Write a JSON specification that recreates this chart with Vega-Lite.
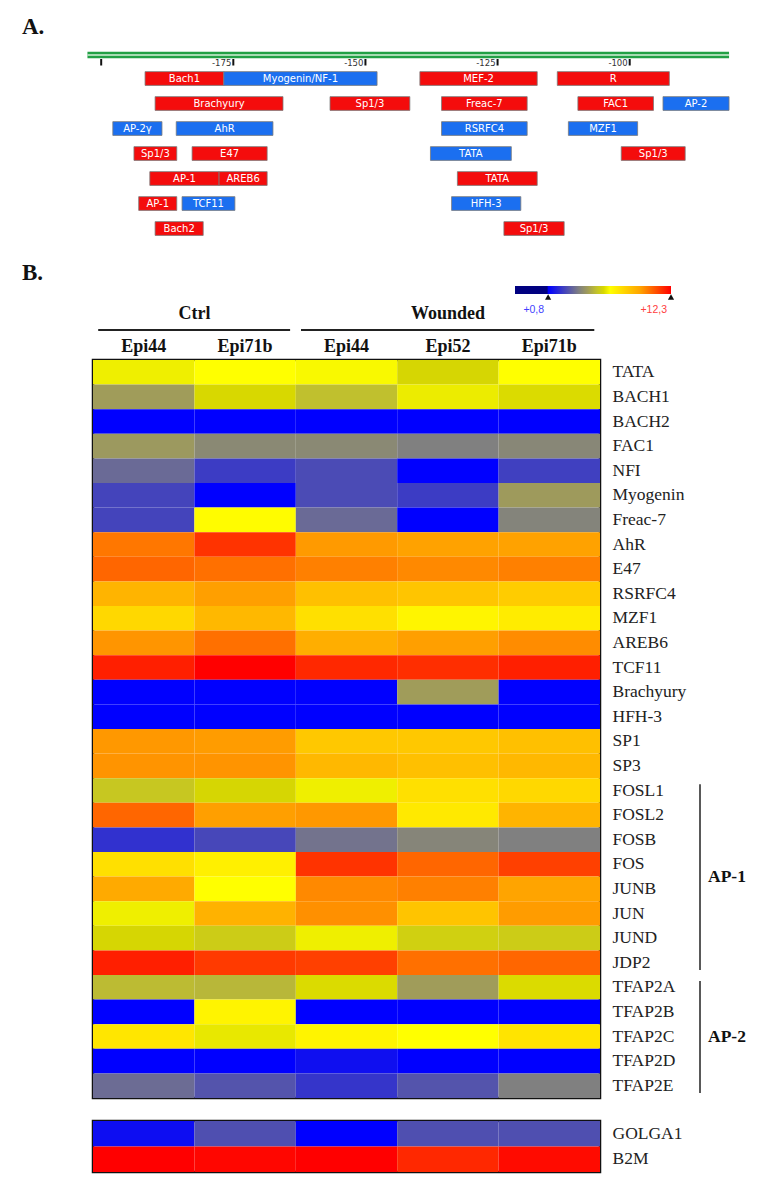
{
  "$schema": "https://vega.github.io/schema/vega-lite/v6.json",
  "padding": {"left": 22, "top": 15, "right": 5, "bottom": 5},
  "background": "white",
  "config": {"view": {"stroke": null}, "font": "Liberation Serif"},
  "datasets": {
    "heat": [
      {"gene":"TATA","sample":"Ctrl/Epi44","value":6.35},{"gene":"TATA","sample":"Ctrl/Epi71b","value":6.6},{"gene":"TATA","sample":"Wounded/Epi44","value":6.5},{"gene":"TATA","sample":"Wounded/Epi52","value":5.95},{"gene":"TATA","sample":"Wounded/Epi71b","value":6.6},
      {"gene":"BACH1","sample":"Ctrl/Epi44","value":4.5},{"gene":"BACH1","sample":"Ctrl/Epi71b","value":6.0},{"gene":"BACH1","sample":"Wounded/Epi44","value":5.3},{"gene":"BACH1","sample":"Wounded/Epi52","value":6.3},{"gene":"BACH1","sample":"Wounded/Epi71b","value":6.05},
      {"gene":"BACH2","sample":"Ctrl/Epi44","value":0.8},{"gene":"BACH2","sample":"Ctrl/Epi71b","value":0.8},{"gene":"BACH2","sample":"Wounded/Epi44","value":0.8},{"gene":"BACH2","sample":"Wounded/Epi52","value":0.8},{"gene":"BACH2","sample":"Wounded/Epi71b","value":0.8},
      {"gene":"FAC1","sample":"Ctrl/Epi44","value":4.4},{"gene":"FAC1","sample":"Ctrl/Epi71b","value":3.95},{"gene":"FAC1","sample":"Wounded/Epi44","value":3.95},{"gene":"FAC1","sample":"Wounded/Epi52","value":3.7},{"gene":"FAC1","sample":"Wounded/Epi71b","value":3.9},
      {"gene":"NFI","sample":"Ctrl/Epi44","value":3.2},{"gene":"NFI","sample":"Ctrl/Epi71b","value":2.15},{"gene":"NFI","sample":"Wounded/Epi44","value":2.5},{"gene":"NFI","sample":"Wounded/Epi52","value":0.8},{"gene":"NFI","sample":"Wounded/Epi71b","value":2.25},
      {"gene":"Myogenin","sample":"Ctrl/Epi44","value":2.35},{"gene":"Myogenin","sample":"Ctrl/Epi71b","value":0.8},{"gene":"Myogenin","sample":"Wounded/Epi44","value":2.5},{"gene":"Myogenin","sample":"Wounded/Epi52","value":2.15},{"gene":"Myogenin","sample":"Wounded/Epi71b","value":4.45},
      {"gene":"Freac-7","sample":"Ctrl/Epi44","value":2.35},{"gene":"Freac-7","sample":"Ctrl/Epi71b","value":6.7},{"gene":"Freac-7","sample":"Wounded/Epi44","value":3.2},{"gene":"Freac-7","sample":"Wounded/Epi52","value":0.8},{"gene":"Freac-7","sample":"Wounded/Epi71b","value":3.8},
      {"gene":"AhR","sample":"Ctrl/Epi44","value":10.2},{"gene":"AhR","sample":"Ctrl/Epi71b","value":11.4},{"gene":"AhR","sample":"Wounded/Epi44","value":9.6},{"gene":"AhR","sample":"Wounded/Epi52","value":9.45},{"gene":"AhR","sample":"Wounded/Epi71b","value":9.45},
      {"gene":"E47","sample":"Ctrl/Epi44","value":10.5},{"gene":"E47","sample":"Ctrl/Epi71b","value":10.33},{"gene":"E47","sample":"Wounded/Epi44","value":10.05},{"gene":"E47","sample":"Wounded/Epi52","value":9.9},{"gene":"E47","sample":"Wounded/Epi71b","value":10.05},
      {"gene":"RSRFC4","sample":"Ctrl/Epi44","value":8.93},{"gene":"RSRFC4","sample":"Ctrl/Epi71b","value":9.5},{"gene":"RSRFC4","sample":"Wounded/Epi44","value":8.56},{"gene":"RSRFC4","sample":"Wounded/Epi52","value":8.4},{"gene":"RSRFC4","sample":"Wounded/Epi71b","value":8.2},
      {"gene":"MZF1","sample":"Ctrl/Epi44","value":7.8},{"gene":"MZF1","sample":"Ctrl/Epi71b","value":8.8},{"gene":"MZF1","sample":"Wounded/Epi44","value":7.56},{"gene":"MZF1","sample":"Wounded/Epi52","value":6.9},{"gene":"MZF1","sample":"Wounded/Epi71b","value":7.2},
      {"gene":"AREB6","sample":"Ctrl/Epi44","value":9.68},{"gene":"AREB6","sample":"Ctrl/Epi71b","value":10.33},{"gene":"AREB6","sample":"Wounded/Epi44","value":9.12},{"gene":"AREB6","sample":"Wounded/Epi52","value":9.5},{"gene":"AREB6","sample":"Wounded/Epi71b","value":9.84},
      {"gene":"TCF11","sample":"Ctrl/Epi44","value":11.75},{"gene":"TCF11","sample":"Ctrl/Epi71b","value":12.3},{"gene":"TCF11","sample":"Wounded/Epi44","value":11.6},{"gene":"TCF11","sample":"Wounded/Epi52","value":11.5},{"gene":"TCF11","sample":"Wounded/Epi71b","value":11.75},
      {"gene":"Brachyury","sample":"Ctrl/Epi44","value":0.8},{"gene":"Brachyury","sample":"Ctrl/Epi71b","value":0.8},{"gene":"Brachyury","sample":"Wounded/Epi44","value":0.8},{"gene":"Brachyury","sample":"Wounded/Epi52","value":4.5},{"gene":"Brachyury","sample":"Wounded/Epi71b","value":0.8},
      {"gene":"HFH-3","sample":"Ctrl/Epi44","value":0.8},{"gene":"HFH-3","sample":"Ctrl/Epi71b","value":0.8},{"gene":"HFH-3","sample":"Wounded/Epi44","value":0.8},{"gene":"HFH-3","sample":"Wounded/Epi52","value":0.8},{"gene":"HFH-3","sample":"Wounded/Epi71b","value":0.8},
      {"gene":"SP1","sample":"Ctrl/Epi44","value":9.63},{"gene":"SP1","sample":"Ctrl/Epi71b","value":9.55},{"gene":"SP1","sample":"Wounded/Epi44","value":8.31},{"gene":"SP1","sample":"Wounded/Epi52","value":8.31},{"gene":"SP1","sample":"Wounded/Epi71b","value":8.56},
      {"gene":"SP3","sample":"Ctrl/Epi44","value":9.7},{"gene":"SP3","sample":"Ctrl/Epi71b","value":9.7},{"gene":"SP3","sample":"Wounded/Epi44","value":8.8},{"gene":"SP3","sample":"Wounded/Epi52","value":8.56},{"gene":"SP3","sample":"Wounded/Epi71b","value":8.8},
      {"gene":"FOSL1","sample":"Ctrl/Epi44","value":5.5},{"gene":"FOSL1","sample":"Ctrl/Epi71b","value":5.95},{"gene":"FOSL1","sample":"Wounded/Epi44","value":6.35},{"gene":"FOSL1","sample":"Wounded/Epi52","value":7.56},{"gene":"FOSL1","sample":"Wounded/Epi71b","value":7.8},
      {"gene":"FOSL2","sample":"Ctrl/Epi44","value":10.5},{"gene":"FOSL2","sample":"Ctrl/Epi71b","value":9.5},{"gene":"FOSL2","sample":"Wounded/Epi44","value":9.63},{"gene":"FOSL2","sample":"Wounded/Epi52","value":7.3},{"gene":"FOSL2","sample":"Wounded/Epi71b","value":8.93},
      {"gene":"FOSB","sample":"Ctrl/Epi44","value":1.9},{"gene":"FOSB","sample":"Ctrl/Epi71b","value":2.4},{"gene":"FOSB","sample":"Wounded/Epi44","value":3.4},{"gene":"FOSB","sample":"Wounded/Epi52","value":3.85},{"gene":"FOSB","sample":"Wounded/Epi71b","value":3.7},
      {"gene":"FOS","sample":"Ctrl/Epi44","value":7.56},{"gene":"FOS","sample":"Ctrl/Epi71b","value":7.07},{"gene":"FOS","sample":"Wounded/Epi44","value":11.4},{"gene":"FOS","sample":"Wounded/Epi52","value":10.5},{"gene":"FOS","sample":"Wounded/Epi71b","value":11.17},
      {"gene":"JUNB","sample":"Ctrl/Epi44","value":9.24},{"gene":"JUNB","sample":"Ctrl/Epi71b","value":6.6},{"gene":"JUNB","sample":"Wounded/Epi44","value":9.9},{"gene":"JUNB","sample":"Wounded/Epi52","value":10.05},{"gene":"JUNB","sample":"Wounded/Epi71b","value":9.42},
      {"gene":"JUN","sample":"Ctrl/Epi44","value":6.35},{"gene":"JUN","sample":"Ctrl/Epi71b","value":9.0},{"gene":"JUN","sample":"Wounded/Epi44","value":9.77},{"gene":"JUN","sample":"Wounded/Epi52","value":8.43},{"gene":"JUN","sample":"Wounded/Epi71b","value":9.55},
      {"gene":"JUND","sample":"Ctrl/Epi44","value":5.95},{"gene":"JUND","sample":"Ctrl/Epi71b","value":5.65},{"gene":"JUND","sample":"Wounded/Epi44","value":6.35},{"gene":"JUND","sample":"Wounded/Epi52","value":5.75},{"gene":"JUND","sample":"Wounded/Epi71b","value":5.65},
      {"gene":"JDP2","sample":"Ctrl/Epi44","value":11.75},{"gene":"JDP2","sample":"Ctrl/Epi71b","value":11.28},{"gene":"JDP2","sample":"Wounded/Epi44","value":11.17},{"gene":"JDP2","sample":"Wounded/Epi52","value":10.33},{"gene":"JDP2","sample":"Wounded/Epi71b","value":10.5},
      {"gene":"TFAP2A","sample":"Ctrl/Epi44","value":5.2},{"gene":"TFAP2A","sample":"Ctrl/Epi71b","value":5.1},{"gene":"TFAP2A","sample":"Wounded/Epi44","value":6.05},{"gene":"TFAP2A","sample":"Wounded/Epi52","value":4.5},{"gene":"TFAP2A","sample":"Wounded/Epi71b","value":6.05},
      {"gene":"TFAP2B","sample":"Ctrl/Epi44","value":0.8},{"gene":"TFAP2B","sample":"Ctrl/Epi71b","value":6.95},{"gene":"TFAP2B","sample":"Wounded/Epi44","value":0.8},{"gene":"TFAP2B","sample":"Wounded/Epi52","value":0.8},{"gene":"TFAP2B","sample":"Wounded/Epi71b","value":0.8},
      {"gene":"TFAP2C","sample":"Ctrl/Epi44","value":7.38},{"gene":"TFAP2C","sample":"Ctrl/Epi71b","value":6.25},{"gene":"TFAP2C","sample":"Wounded/Epi44","value":6.95},{"gene":"TFAP2C","sample":"Wounded/Epi52","value":6.6},{"gene":"TFAP2C","sample":"Wounded/Epi71b","value":7.45},
      {"gene":"TFAP2D","sample":"Ctrl/Epi44","value":0.8},{"gene":"TFAP2D","sample":"Ctrl/Epi71b","value":0.8},{"gene":"TFAP2D","sample":"Wounded/Epi44","value":1.15},{"gene":"TFAP2D","sample":"Wounded/Epi52","value":0.8},{"gene":"TFAP2D","sample":"Wounded/Epi71b","value":0.8},
      {"gene":"TFAP2E","sample":"Ctrl/Epi44","value":3.25},{"gene":"TFAP2E","sample":"Ctrl/Epi71b","value":2.7},{"gene":"TFAP2E","sample":"Wounded/Epi44","value":2.0},{"gene":"TFAP2E","sample":"Wounded/Epi52","value":2.7},{"gene":"TFAP2E","sample":"Wounded/Epi71b","value":3.7}
    ],
    "controls": [
      {"gene":"GOLGA1","sample":"Ctrl/Epi44","value":1.1},{"gene":"GOLGA1","sample":"Ctrl/Epi71b","value":2.6},{"gene":"GOLGA1","sample":"Wounded/Epi44","value":0.8},{"gene":"GOLGA1","sample":"Wounded/Epi52","value":2.6},{"gene":"GOLGA1","sample":"Wounded/Epi71b","value":2.6},
      {"gene":"B2M","sample":"Ctrl/Epi44","value":12.3},{"gene":"B2M","sample":"Ctrl/Epi71b","value":12.2},{"gene":"B2M","sample":"Wounded/Epi44","value":12.3},{"gene":"B2M","sample":"Wounded/Epi52","value":11.6},{"gene":"B2M","sample":"Wounded/Epi71b","value":12.1}
    ],
    "sites": [
      {"id":1,"factor":"Bach1","strand":"+","row":1,"start":-191.7,"end":-176.8},
      {"id":2,"factor":"Myogenin/NF-1","strand":"-","row":1,"start":-176.8,"end":-147.8},
      {"id":3,"factor":"MEF-2","strand":"+","row":1,"start":-139.7,"end":-117.5},
      {"id":4,"factor":"R","strand":"+","row":1,"start":-113.7,"end":-92.5},
      {"id":5,"factor":"Brachyury","strand":"+","row":2,"start":-189.8,"end":-165.6},
      {"id":6,"factor":"Sp1/3","strand":"+","row":2,"start":-156.7,"end":-141.6},
      {"id":7,"factor":"Freac-7","strand":"+","row":2,"start":-135.6,"end":-119.4},
      {"id":8,"factor":"FAC1","strand":"+","row":2,"start":-109.8,"end":-95.5},
      {"id":9,"factor":"AP-2","strand":"-","row":2,"start":-93.7,"end":-81.2},
      {"id":10,"factor":"AP-2γ","strand":"-","row":3,"start":-197.8,"end":-188.5},
      {"id":11,"factor":"AhR","strand":"-","row":3,"start":-185.8,"end":-167.5},
      {"id":12,"factor":"RSRFC4","strand":"-","row":3,"start":-135.6,"end":-119.4},
      {"id":13,"factor":"MZF1","strand":"-","row":3,"start":-111.6,"end":-98.5},
      {"id":14,"factor":"Sp1/3","strand":"+","row":4,"start":-193.8,"end":-185.7},
      {"id":15,"factor":"E47","strand":"+","row":4,"start":-182.8,"end":-168.6},
      {"id":16,"factor":"TATA","strand":"-","row":4,"start":-137.7,"end":-122.4},
      {"id":17,"factor":"Sp1/3","strand":"+","row":4,"start":-101.6,"end":-89.5},
      {"id":18,"factor":"AP-1","strand":"+","row":5,"start":-190.8,"end":-177.7},
      {"id":19,"factor":"AREB6","strand":"+","row":5,"start":-177.7,"end":-168.6},
      {"id":20,"factor":"TATA","strand":"+","row":5,"start":-132.6,"end":-117.5},
      {"id":21,"factor":"AP-1","strand":"+","row":6,"start":-192.9,"end":-185.7},
      {"id":22,"factor":"TCF11","strand":"-","row":6,"start":-184.7,"end":-174.7},
      {"id":23,"factor":"HFH-3","strand":"-","row":6,"start":-133.7,"end":-120.6},
      {"id":24,"factor":"Bach2","strand":"+","row":7,"start":-189.8,"end":-180.7},
      {"id":25,"factor":"Sp1/3","strand":"+","row":7,"start":-123.8,"end":-112.4}
    ]
  },
  "spacing": 21,
  "vconcat": [
    {
      "bounds": "flush",
      "spacing": 0,
      "vconcat": [
        {
          "title": {"text": "A.", "anchor": "start", "frame": "group", "dx": -71, "offset": 12.4, "baseline": "top", "font": "Liberation Serif", "fontSize": 23, "fontWeight": "bold", "color": "#111"},
          "width": 636,
          "height": 8,
          "data": {"values": [{"from": -202.6, "to": -81.2}]},
          "encoding": {
            "x": {"field": "from", "type": "quantitative", "scale": {"domain": [-201.55, -81.21], "nice": false, "zero": false}, "axis": null},
            "x2": {"field": "to"}
          },
          "layer": [
            {"mark": {"type": "rule", "color": "#22a045", "strokeWidth": 6.5}},
            {"mark": {"type": "rule", "color": "#d4efd9", "strokeWidth": 1.5}}
          ]
        },
        {
          "width": 636,
          "height": 6.5,
          "data": {"values": [{"pos": -200, "label": ""}, {"pos": -175, "label": "-175"}, {"pos": -150, "label": "-150"}, {"pos": -125, "label": "-125"}, {"pos": -100, "label": "-100"}]},
          "encoding": {
            "x": {"field": "pos", "type": "quantitative", "scale": {"domain": [-201.55, -81.21], "nice": false, "zero": false}, "axis": null}
          },
          "layer": [
            {"mark": {"type": "rule", "color": "#111", "strokeWidth": 2}},
            {"mark": {"type": "text", "align": "right", "baseline": "middle", "dx": -2, "dy": 0.5, "font": "DejaVu Sans", "fontSize": 8.5, "color": "#333"}, "encoding": {"text": {"field": "label"}}}
          ]
        },
        {
          "width": 636,
          "height": 175,
          "data": {"name": "sites"},
          "encoding": {
            "y": {"field": "row", "type": "ordinal", "scale": {"paddingInner": 0.45, "paddingOuter": 0.225}, "axis": null}
          },
          "layer": [
            {
              "mark": {"type": "rect", "stroke": "#7a7a7a", "strokeWidth": 0.8},
              "encoding": {
                "x": {"field": "start", "type": "quantitative", "scale": {"domain": [-201.55, -81.21], "nice": false, "zero": false}, "axis": null},
                "x2": {"field": "end"},
                "color": {"field": "strand", "type": "nominal", "scale": {"domain": ["+", "-"], "range": ["#f40c0c", "#1b6ff0"]}, "legend": null}
              }
            },
            {
              "transform": [{"fold": ["start", "end"], "as": ["edge", "pos"]}],
              "mark": {"type": "text", "color": "white", "font": "DejaVu Sans", "fontSize": 10, "baseline": "middle"},
              "encoding": {
                "x": {"aggregate": "mean", "field": "pos", "type": "quantitative"},
                "text": {"field": "factor"},
                "detail": {"field": "id"}
              }
            }
          ]
        }
      ]
    },
    {
      "title": {"text": "B.", "anchor": "start", "frame": "group", "dx": -71, "offset": 1, "baseline": "top", "font": "Liberation Serif", "fontSize": 23, "fontWeight": "bold", "color": "#111"},
      "spacing": 19,
      "vconcat": [
        {
          "spacing": 0,
          "vconcat": [
            {
              "bounds": "flush",
              "spacing": 0,
              "hconcat": [
                {
                  "width": 422,
                  "height": 49,
                  "data": {"values": [{"condition": "Ctrl", "idx": 0}, {"condition": "Ctrl", "idx": 1}, {"condition": "Wounded", "idx": 2}, {"condition": "Wounded", "idx": 3}, {"condition": "Wounded", "idx": 4}]},
                  "layer": [
                    {
                      "mark": {"type": "text", "font": "Liberation Serif", "fontSize": 18, "fontWeight": "bold", "baseline": "middle", "color": "#111"},
                      "encoding": {
                        "x": {"aggregate": "mean", "field": "idx", "type": "quantitative", "scale": {"domain": [-0.5, 3.6617], "nice": false, "zero": false}, "axis": null},
                        "y": {"datum": "group", "type": "nominal", "scale": {"type": "point", "domain": ["group", "rule"], "padding": 1.95, "align": 0.846}, "axis": null},
                        "text": {"field": "condition"}
                      }
                    },
                    {
                      "mark": {"type": "rule", "color": "#222", "strokeWidth": 2, "xOffset": -45.5, "x2Offset": 45},
                      "encoding": {
                        "x": {"aggregate": "min", "field": "idx", "type": "quantitative"},
                        "x2": {"aggregate": "max", "field": "idx"},
                        "y": {"datum": "rule", "type": "nominal"},
                        "detail": {"field": "condition"}
                      }
                    }
                  ]
                },
                {
                  "width": 156,
                  "height": 8,
                  "data": {"values": [{"marker": "min", "value": 0.8, "label": "+0,8"}, {"marker": "max", "value": 12.3, "label": "+12,3"}]},
                  "layer": [
                    {
                      "mark": {"type": "rect", "color": {"gradient": "linear", "x1": 0, "x2": 1, "y1": 0, "y2": 0, "stops": [
                        {"offset": 0, "color": "#000080"}, {"offset": 0.205, "color": "#000080"}, {"offset": 0.215, "color": "#0000ff"},
                        {"offset": 0.411, "color": "#808080"}, {"offset": 0.466, "color": "#a09c5a"}, {"offset": 0.527, "color": "#c4c428"},
                        {"offset": 0.568, "color": "#d8d800"}, {"offset": 0.610, "color": "#ffff00"}, {"offset": 0.801, "color": "#ffa500"}, {"offset": 1, "color": "#ff0000"}]}},
                      "encoding": {
                        "x": {"datum": -2.3, "type": "quantitative", "scale": {"domain": [-2.3, 12.3], "nice": false, "zero": false}, "axis": null},
                        "x2": {"datum": 12.3}
                      }
                    },
                    {
                      "mark": {"type": "point", "shape": "triangle-up", "filled": true, "color": "#111", "size": 38, "opacity": 1, "yOffset": 7},
                      "encoding": {"x": {"field": "value", "type": "quantitative"}}
                    },
                    {
                      "mark": {"type": "text", "align": "right", "baseline": "middle", "dx": -4, "dy": 20, "font": "Liberation Sans", "fontSize": 10.5},
                      "encoding": {
                        "x": {"field": "value", "type": "quantitative"},
                        "text": {"field": "label"},
                        "color": {"condition": {"test": "datum.value < 5", "value": "#3f3fff"}, "value": "#ff4040"}
                      }
                    }
                  ]
                }
              ]
            },
            {
              "bounds": "flush",
              "spacing": 100,
              "hconcat": [
                {
                  "width": 507,
                  "height": 738,
                  "data": {"name": "heat"},
                  "view": {"stroke": "#111", "strokeWidth": 2.5},
                  "mark": {"type": "rect"},
                  "encoding": {
                    "x": {"field": "sample", "type": "nominal", "scale": {"domain": ["Ctrl/Epi44", "Ctrl/Epi71b", "Wounded/Epi44", "Wounded/Epi52", "Wounded/Epi71b"], "paddingInner": 0, "paddingOuter": 0},
                      "axis": {"orient": "top", "title": null, "domain": false, "ticks": false, "labelAngle": 0, "labelExpr": "split(datum.label, '/')[1]", "labelFont": "Liberation Serif", "labelFontSize": 18, "labelFontWeight": "bold", "labelColor": "#111", "labelPadding": 5}},
                    "y": {"field": "gene", "type": "nominal", "scale": {"domain": ["TATA","BACH1","BACH2","FAC1","NFI","Myogenin","Freac-7","AhR","E47","RSRFC4","MZF1","AREB6","TCF11","Brachyury","HFH-3","SP1","SP3","FOSL1","FOSL2","FOSB","FOS","JUNB","JUN","JUND","JDP2","TFAP2A","TFAP2B","TFAP2C","TFAP2D","TFAP2E"], "paddingInner": 0, "paddingOuter": 0},
                      "axis": {"orient": "right", "title": null, "domain": false, "ticks": false, "labelFont": "Liberation Serif", "labelFontSize": 17.5, "labelColor": "#222", "labelPadding": 12}},
                    "color": {"field": "value", "type": "quantitative", "scale": {"domain": [0.8, 3.7, 4.5, 5.4, 6.0, 6.6, 9.4, 12.3], "range": ["#0000ff", "#808080", "#a09c5a", "#c4c428", "#d8d800", "#ffff00", "#ffa500", "#ff0000"], "interpolate": "rgb", "clamp": true}, "legend": null}
                  }
                },
                {
                  "width": 60,
                  "height": 738,
                  "data": {"values": [{"family": "AP-1", "from": 17, "to": 25}, {"family": "AP-2", "from": 25, "to": 30}]},
                  "layer": [
                    {
                      "mark": {"type": "rule", "color": "#222", "strokeWidth": 1.5, "yOffset": 6, "y2Offset": -5},
                      "encoding": {
                        "x": {"datum": 0, "type": "quantitative", "scale": {"domain": [0, 1], "nice": false, "zero": false}, "axis": null},
                        "y": {"field": "from", "type": "quantitative", "scale": {"domain": [0, 30], "reverse": true, "nice": false, "zero": false}, "axis": null},
                        "y2": {"field": "to"}
                      }
                    },
                    {
                      "transform": [{"fold": ["from", "to"], "as": ["end", "rowpos"]}],
                      "mark": {"type": "text", "align": "left", "baseline": "middle", "dx": 8, "font": "Liberation Serif", "fontSize": 17.5, "fontWeight": "bold", "color": "#111"},
                      "encoding": {
                        "x": {"datum": 0, "type": "quantitative"},
                        "y": {"aggregate": "mean", "field": "rowpos", "type": "quantitative"},
                        "text": {"field": "family"}
                      }
                    }
                  ]
                }
              ]
            }
          ]
        },
        {
          "width": 507,
          "height": 51,
          "data": {"name": "controls"},
          "view": {"stroke": "#111", "strokeWidth": 2.5},
          "mark": {"type": "rect"},
          "encoding": {
            "x": {"field": "sample", "type": "nominal", "scale": {"domain": ["Ctrl/Epi44", "Ctrl/Epi71b", "Wounded/Epi44", "Wounded/Epi52", "Wounded/Epi71b"], "paddingInner": 0, "paddingOuter": 0}, "axis": null},
            "y": {"field": "gene", "type": "nominal", "scale": {"domain": ["GOLGA1", "B2M"], "paddingInner": 0, "paddingOuter": 0},
              "axis": {"orient": "right", "title": null, "domain": false, "ticks": false, "labelFont": "Liberation Serif", "labelFontSize": 17.5, "labelColor": "#222", "labelPadding": 12}},
            "color": {"field": "value", "type": "quantitative", "scale": {"domain": [0.8, 3.7, 4.5, 5.4, 6.0, 6.6, 9.4, 12.3], "range": ["#0000ff", "#808080", "#a09c5a", "#c4c428", "#d8d800", "#ffff00", "#ffa500", "#ff0000"], "interpolate": "rgb", "clamp": true}, "legend": null}
          }
        }
      ]
    }
  ]
}
